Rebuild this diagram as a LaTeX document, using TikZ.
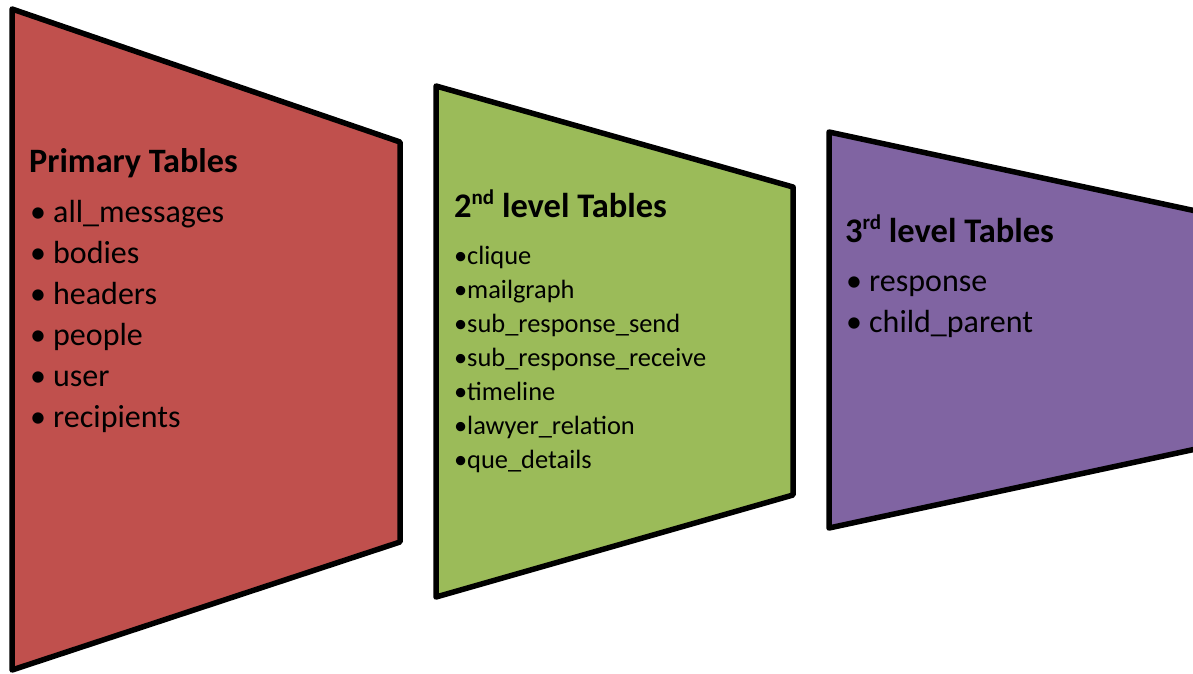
\documentclass[tikz,border=0pt]{standalone}
\usepackage{fontspec}
\setmainfont{Carlito}
\definecolor{cred}{HTML}{C0504D}
\definecolor{cgreen}{HTML}{9BBB59}
\definecolor{cpurple}{HTML}{8064A2}
\begin{document}
\begin{tikzpicture}[x=1pt,y=-1pt,
  panel/.style={draw=black,line width=5.5pt,line join=round},
  ttl/.style={anchor=base west,inner sep=0pt,font=\fontsize{34.2}{36}\selectfont\bfseries},
  ttlsub/.style={anchor=base west,inner sep=0pt,font=\fontsize{34.5}{36}\selectfont\bfseries},
  itmA/.style={anchor=base west,inner sep=0pt,font=\fontsize{32}{36}\selectfont},
  itmB/.style={anchor=base west,inner sep=0pt,font=\fontsize{26.4}{30}\selectfont},
]
\useasboundingbox (0,0) rectangle (1193,673);
\clip (0,0) rectangle (1193,673);
% panels
\filldraw[panel,fill=cred] (12,9) -- (400,142) -- (400,542) -- (12,670) -- cycle;
\filldraw[panel,fill=cgreen] (436,86) -- (793,187) -- (793,495) -- (436,597) -- cycle;
\filldraw[panel,fill=cpurple] (829,132) -- (1196,211) -- (1196,449) -- (829,528) -- cycle;
% red texts
\node[ttl] (t1) at (29,172) {Primary Tables};
\foreach \txt [count=\i] in {all\_messages,bodies,headers,people,user,recipients}{
  \node[itmA] (r\i) at (30,{222+41*(\i-1)}) {\makebox[23pt][l]{•}\txt};
}
% green texts
\node[ttlsub] (t2) at (454,217) {2\raisebox{0.36em}{\fontsize{21}{22}\selectfont nd} level Tables};
\foreach \txt [count=\i] in {clique,mailgraph,sub\_response\_send,sub\_response\_receive,timeline,lawyer\_relation,que\_details}{
  \node[itmB] (g\i) at (454,{264+34*(\i-1)}) {\makebox[13pt][l]{•}\txt};
}
% purple texts
\node[ttlsub] (t3) at (845,242) {3\raisebox{0.36em}{\fontsize{21}{22}\selectfont rd} level Tables};
\foreach \txt [count=\i] in {response,child\_parent}{
  \node[itmA] (p\i) at (846,{291+41*(\i-1)}) {\makebox[23pt][l]{•}\txt};
}
\end{tikzpicture}
\end{document}
